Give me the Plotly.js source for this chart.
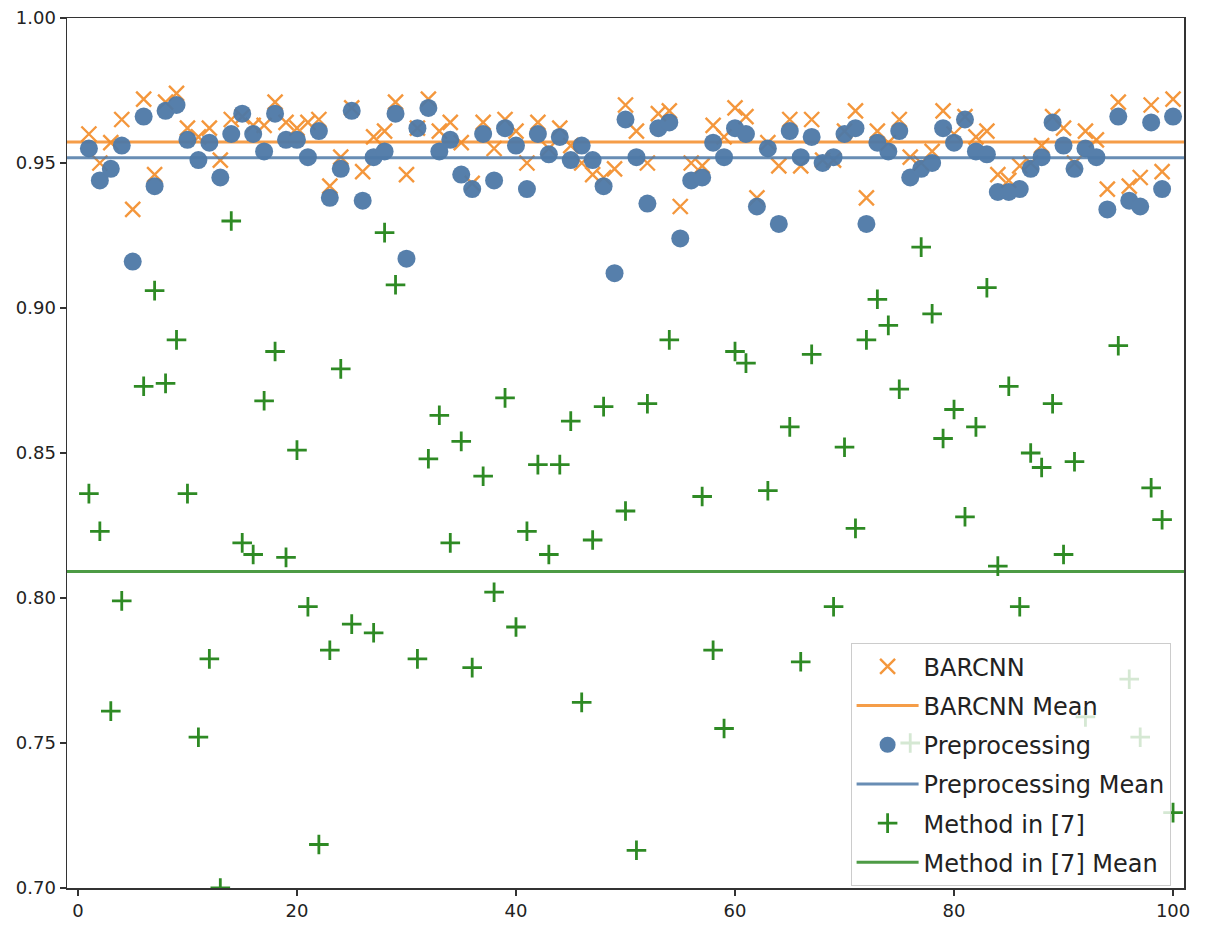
<!DOCTYPE html>
<html>
<head>
<meta charset="utf-8">
<script src="https://cdn.plot.ly/plotly-3.0.1.min.js"></script>
<style>
  html, body { margin: 0; padding: 0; background: #fff; }
  #plot { width: 1206px; height: 934px; }
</style>
</head>
<body>
<div id="plot"></div>
<script>
// image index 1..100
let imageIndex = [];
for (let i = 1; i <= 100; i++) imageIndex.push(i);

// values
let barcnnScores = [
  0.960, 0.950, 0.957, 0.965, 0.934, 0.972, 0.946, 0.971, 0.974, 0.962,
  0.959, 0.962, 0.951, 0.965, 0.966, 0.963, 0.963, 0.971, 0.964, 0.962,
  0.964, 0.965, 0.942, 0.952, 0.969, 0.947, 0.959, 0.961, 0.971, 0.946,
  0.962, 0.972, 0.961, 0.964, 0.957, 0.943, 0.964, 0.955, 0.965, 0.961,
  0.950, 0.964, 0.955, 0.962, 0.956, 0.950, 0.946, 0.945, 0.948, 0.970,
  0.961, 0.950, 0.967, 0.968, 0.935, 0.950, 0.949, 0.963, 0.959, 0.969,
  0.966, 0.938, 0.957, 0.949, 0.965, 0.949, 0.965, 0.951, 0.951, 0.961,
  0.968, 0.938, 0.961, 0.957, 0.965, 0.952, 0.950, 0.954, 0.968, 0.960,
  0.966, 0.959, 0.961, 0.946, 0.944, 0.949, 0.950, 0.956, 0.966, 0.962,
  0.950, 0.961, 0.958, 0.941, 0.971, 0.942, 0.945, 0.970, 0.947, 0.972
];

let preprocessingScores = [
  0.955, 0.944, 0.948, 0.956, 0.916, 0.966, 0.942, 0.968, 0.970, 0.958,
  0.951, 0.957, 0.945, 0.960, 0.967, 0.960, 0.954, 0.967, 0.958, 0.958,
  0.952, 0.961, 0.938, 0.948, 0.968, 0.937, 0.952, 0.954, 0.967, 0.917,
  0.962, 0.969, 0.954, 0.958, 0.946, 0.941, 0.960, 0.944, 0.962, 0.956,
  0.941, 0.960, 0.953, 0.959, 0.951, 0.956, 0.951, 0.942, 0.912, 0.965,
  0.952, 0.936, 0.962, 0.964, 0.924, 0.944, 0.945, 0.957, 0.952, 0.962,
  0.960, 0.935, 0.955, 0.929, 0.961, 0.952, 0.959, 0.950, 0.952, 0.960,
  0.962, 0.929, 0.957, 0.954, 0.961, 0.945, 0.948, 0.950, 0.962, 0.957,
  0.965, 0.954, 0.953, 0.940, 0.940, 0.941, 0.948, 0.952, 0.964, 0.956,
  0.948, 0.955, 0.952, 0.934, 0.966, 0.937, 0.935, 0.964, 0.941, 0.966
];

// null = not visible in the picture (off the axis)
let method7Scores = [
  0.836, 0.823, 0.761, 0.799, null,  0.873, 0.906, 0.874, 0.889, 0.836,
  0.752, 0.779, 0.700, 0.930, 0.819, 0.815, 0.868, 0.885, 0.814, 0.851,
  0.797, 0.715, 0.782, 0.879, 0.791, null,  0.788, 0.926, 0.908, null,
  0.779, 0.848, 0.863, 0.819, 0.854, 0.776, 0.842, 0.802, 0.869, 0.790,
  0.823, 0.846, 0.815, 0.846, 0.861, 0.764, 0.820, 0.866, null,  0.830,
  0.713, 0.867, null,  0.889, null,  null,  0.835, 0.782, 0.755, 0.885,
  0.881, null,  0.837, null,  0.859, 0.778, 0.884, null,  0.797, 0.852,
  0.824, 0.889, 0.903, 0.894, 0.872, 0.750, 0.921, 0.898, 0.855, 0.865,
  0.828, 0.859, 0.907, 0.811, 0.873, 0.797, 0.850, 0.845, 0.867, 0.815,
  0.847, 0.759, null,  null,  0.887, 0.772, 0.752, 0.838, 0.827, 0.726
];

let barcnnMean = 0.9572;
let preprocessingMean = 0.9518;
let method7Mean = 0.8091;

let xRange = [-1, 101];
let yRange = [0.70, 1.00];
let xTicks = [0, 20, 40, 60, 80, 100];
let yTicks = [0.70, 0.75, 0.80, 0.85, 0.90, 0.95, 1.00];

let orange = 'rgb(243, 140, 40)';
let blue = 'rgb(78, 121, 167)';
let green = 'rgb(46, 138, 36)';

function meanLine(name, value, color) {
  return {
    x: xRange,
    y: [value, value],
    name: name,
    legendgroup: name,
    mode: 'lines',
    line: { color: color, width: 3 },
    opacity: 0.85,
    hoverinfo: 'skip'
  };
}

let data = [
  {
    x: imageIndex, y: barcnnScores, name: 'BARCNN', legendgroup: 'a', mode: 'markers',
    marker: { symbol: 'x-thin-open', size: 15, line: { color: orange, width: 2.4 }, color: orange },
    opacity: 0.9
  },
  meanLine('BARCNN Mean', barcnnMean, orange),
  {
    x: imageIndex, y: preprocessingScores, name: 'Preprocessing', legendgroup: 'b', mode: 'markers',
    marker: { symbol: 'circle', size: 18, color: blue },
    opacity: 0.95
  },
  meanLine('Preprocessing Mean', preprocessingMean, blue),
  {
    x: imageIndex, y: method7Scores, name: 'Method in [7]', legendgroup: 'c', mode: 'markers',
    marker: { symbol: 'cross-thin-open', size: 14, line: { color: green, width: 2.8 }, color: green }
  },
  meanLine('Method in [7] Mean', method7Mean, green)
];

let axisCommon = {
  showgrid: false,
  zeroline: false,
  showline: true,
  mirror: true,
  linecolor: '#333',
  linewidth: 1.5,
  ticks: 'outside',
  ticklen: 6,
  tickwidth: 1.3,
  tickcolor: '#333',
  tickfont: { family: 'DejaVu Sans', size: 18, color: '#222' }
};

let layout = {
  width: 1206,
  height: 934,
  paper_bgcolor: '#fff',
  plot_bgcolor: '#fff',
  margin: { l: 67, r: 22, t: 18, b: 46 },
  xaxis: Object.assign({}, axisCommon, {
    range: xRange, tickvals: xTicks, ticktext: xTicks.map(String)
  }),
  yaxis: Object.assign({}, axisCommon, {
    range: yRange, tickvals: yTicks, ticktext: yTicks.map(v => v.toFixed(2))
  }),
  showlegend: true,
  legend: {
    x: 0.988, y: 0.002, xanchor: 'right', yanchor: 'bottom',
    bgcolor: 'rgba(255,255,255,0.8)',
    bordercolor: '#ccc', borderwidth: 1,
    font: { family: 'DejaVu Sans', size: 24, color: '#222' },
    itemwidth: 62,
    tracegroupgap: 5
  }
};

Plotly.newPlot('plot', data, layout, { staticPlot: true });
</script>
</body>
</html>
